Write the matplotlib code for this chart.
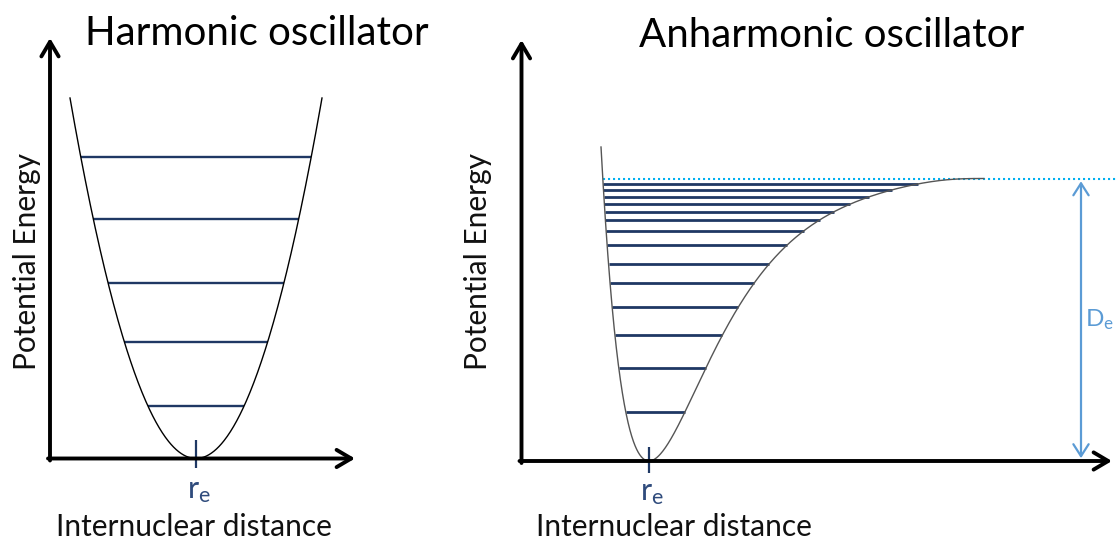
import numpy as np
import matplotlib
matplotlib.use("Agg")
import matplotlib.pyplot as plt

plt.rcParams["font.family"] = ["Lato", "DejaVu Sans"]

# ---------------- data ----------------
# Harmonic oscillator: V = k (r - r_e)^2
HO_RE = 1.46
HO_K = 2.271
HO_E_TOP = 3.605
HO_LEVELS = [0.525, 1.165, 1.755, 2.395, 3.015]

# Anharmonic oscillator: Morse-type well closing onto the dissociation limit
AO_RE = 1.275
AO_DE = 2.825
AO_A = 1.5
AO_RCUT = 3.6
AO_E_TOP = 3.14
AO_LEVELS = [0.49, 0.93, 1.26, 1.54, 1.78, 1.97, 2.16, 2.30,
             2.41, 2.49, 2.57, 2.64, 2.71, 2.77]

TITLES = ["Harmonic oscillator", "Anharmonic oscillator"]
XLABEL = "Internuclear distance"
YLABEL = "Potential Energy"
RE_LABEL = r"$\mathregular{r_e}$"
DE_LABEL = r"$\mathregular{D_e}$"

# ---------------- styles ----------------
W, H = 1116, 542
LEVEL_COLOR = "#1f3864"
RE_COLOR = "#2f4b7c"
DE_COLOR = "#5b9bd5"
LIMIT_COLOR = "#00b0f0"
AXIS_ARROW = "->,head_length=1.05,head_width=0.62"
TITLE_SIZE = 29
LABEL_SIZE = 21.5

fig = plt.figure(figsize=(W / 100, H / 100), dpi=100)
# each panel: 1 data unit = 100 px, origin at the corner of the drawn axes
ax_l = fig.add_axes([0, 0, 450 / W, 1])
ax_l.set_xlim(-0.50, 4.00)
ax_l.set_ylim(-0.835, 4.585)
ax_r = fig.add_axes([450 / W, 0, 666 / W, 1])
ax_r.set_xlim(-0.715, 5.945)
ax_r.set_ylim(-0.81, 4.61)
for ax in (ax_l, ax_r):
    ax.set_axis_off()


def draw_frame(ax, x_tip, y_tip):
    kw = dict(arrowstyle=AXIS_ARROW, lw=2.8, color="black",
              shrinkA=0, shrinkB=0)
    ax.annotate("", xy=(0, y_tip), xytext=(0, -0.02), arrowprops=kw)
    ax.annotate("", xy=(x_tip, 0), xytext=(-0.02, 0), arrowprops=kw)


def draw_labels(ax, title_xy, ylabel_xy, xlabel_xy, re, re_label_y, tick):
    ax.text(*title_xy, TITLES[ax is ax_r], fontsize=TITLE_SIZE, ha="center",
            va="baseline", color="black")
    ax.text(*ylabel_xy, YLABEL, fontsize=LABEL_SIZE, rotation=90,
            ha="center", va="center", color="#111111")
    ax.text(*xlabel_xy, XLABEL, fontsize=LABEL_SIZE, ha="center",
            va="baseline", color="#111111")
    ax.plot([re, re], list(tick), color=LEVEL_COLOR, lw=1.6,
            solid_capstyle="butt", clip_on=False)
    ax.text(re + 0.03, re_label_y, RE_LABEL, fontsize=22, ha="center",
            va="baseline", color=RE_COLOR)


# ---------------- harmonic panel ----------------
half = np.sqrt(HO_E_TOP / HO_K)
r = np.linspace(HO_RE - half, HO_RE + half, 400)
ax_l.plot(r, HO_K * (r - HO_RE) ** 2, color="black", lw=1.0, zorder=3)
for e in HO_LEVELS:
    d = np.sqrt(e / HO_K)
    ax_l.plot([HO_RE - d, HO_RE + d], [e, e], color=LEVEL_COLOR, lw=1.7,
              solid_capstyle="butt", zorder=2)
draw_frame(ax_l, 3.05, 4.205)
draw_labels(ax_l, (2.065, 4.135), (-0.225, 1.965), (1.44, -0.77),
            HO_RE, -0.395, (0.185, -0.095))


# ---------------- anharmonic panel ----------------
def exponent(dx):
    dx = np.asarray(dx, dtype=float)
    out = AO_A * dx
    pos = dx > 0
    out[pos] = AO_A * dx[pos] / (1 - (dx[pos] / AO_RCUT) ** 7)
    return out


def morse(dx):
    return AO_DE * (1 - np.exp(-exponent(dx))) ** 2


def left_dx(e):
    return -np.log(1 + np.sqrt(e / AO_DE)) / AO_A


grid = np.linspace(0, 0.97 * AO_RCUT, 6000)
vgrid = morse(grid)


def right_dx(e):
    return np.interp(e, vgrid, grid)


dx = np.concatenate([np.linspace(left_dx(AO_E_TOP), 0, 300),
                     np.linspace(0, 0.93 * AO_RCUT, 900)[1:]])
ax_r.plot(AO_RE + dx, morse(dx), color="#555555", lw=1.0, zorder=3)
for e in AO_LEVELS:
    ax_r.plot([AO_RE + left_dx(e), AO_RE + right_dx(e)], [e, e],
              color=LEVEL_COLOR, lw=2.0, solid_capstyle="butt", zorder=2)

# dissociation limit
ax_r.plot([AO_RE + left_dx(AO_DE), 5.945], [AO_DE, AO_DE], color=LIMIT_COLOR,
          lw=1.5, dashes=(1, 1.4), zorder=1, clip_on=False)
x_de = 5.595
ax_r.annotate("", xy=(x_de, AO_DE), xytext=(x_de, 0),
              arrowprops=dict(arrowstyle="<->,head_length=0.86,head_width=0.55",
                              lw=1.6, color=DE_COLOR, shrinkA=2, shrinkB=2))
ax_r.text(x_de + 0.04, AO_DE / 2, DE_LABEL, fontsize=17.5, ha="left",
          va="center", color=DE_COLOR)

draw_frame(ax_r, 5.905, 4.21)
draw_labels(ax_r, (3.105, 4.145), (-0.435, 1.995), (1.525, -0.745),
            AO_RE, -0.39, (0.14, -0.12))

fig.savefig("out.png", dpi=100)
